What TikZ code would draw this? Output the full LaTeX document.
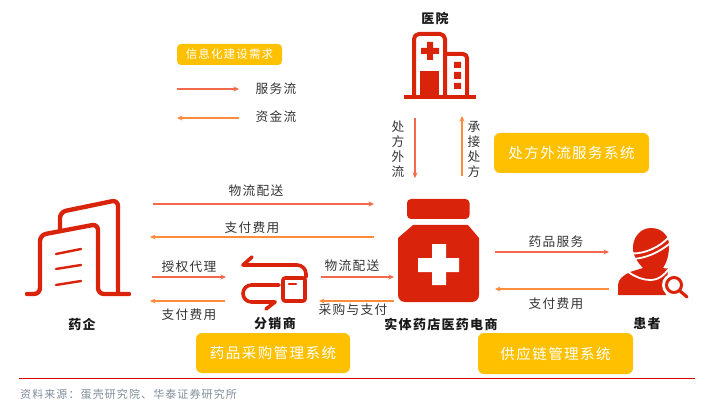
\documentclass[tikz,border=0pt]{standalone}
\usepackage{fontspec}
\setmainfont{Noto Sans CJK SC}[LetterSpace=10]
\usetikzlibrary{arrows.meta}
\definecolor{iconred}{HTML}{D9230B}
\definecolor{flowred}{HTML}{F2694B}
\definecolor{flowor}{HTML}{FF8B3D}
\definecolor{boxyel}{HTML}{FFC000}
\definecolor{srcgray}{HTML}{7F8C99}

\begin{document}
\begin{tikzpicture}[x=1pt, y=-1pt,
    serv/.style={draw=flowred, line width=1.2pt, -{Stealth[length=5.5pt, width=5pt]}},
    fund/.style={draw=flowor, line width=1.2pt, -{Stealth[length=5.5pt, width=5pt]}},
    lbl/.style={font=\fontsize{12.7}{14}\selectfont, text=black!80, inner sep=0pt},
    vlbl/.style={lbl, align=center, font=\fontsize{12.7}{15}\selectfont},
    actor/.style={font=\bfseries\fontsize{13}{14}\selectfont, text=black!90, inner sep=0pt},
    sysbox/.style={fill=boxyel, rounded corners=6pt, text=white, inner sep=0pt, font=\fontsize{14.5}{16}\selectfont},
    icon/.style={draw=iconred, line width=4.4pt, line cap=round, line join=round}]
  \useasboundingbox (0,0) rectangle (712,414);

  % flow end points
  \coordinate (a1) at (153,204);  \coordinate (a2) at (374,204);
  \coordinate (b1) at (374,237);  \coordinate (b2) at (150,237);
  \coordinate (c1) at (152,277);  \coordinate (c2) at (226,277);
  \coordinate (d1) at (225,301);  \coordinate (d2) at (150,301);
  \coordinate (e1) at (321,277);  \coordinate (e2) at (394,277);
  \coordinate (f1) at (394,301);  \coordinate (f2) at (319,301);
  \coordinate (g1) at (495,252);  \coordinate (g2) at (609,252);
  \coordinate (h1) at (609,289);  \coordinate (h2) at (495,289);
  \coordinate (i1) at (415,118);  \coordinate (i2) at (415,178);
  \coordinate (j1) at (462,176);  \coordinate (j2) at (462,116);
  \coordinate (k1) at (177,89);   \coordinate (k2) at (239,89);
  \coordinate (l1) at (239,118);  \coordinate (l2) at (177,118);

  \draw[serv] (a1) -- (a2);
  \draw[fund] (b1) -- (b2);
  \draw[serv] (c1) -- (c2);
  \draw[fund] (d1) -- (d2);
  \draw[serv] (e1) -- (e2);
  \draw[fund] (f1) -- (f2);
  \draw[serv] (g1) -- (g2);
  \draw[fund] (h1) -- (h2);
  \draw[serv] (i1) -- (i2);
  \draw[fund] (j1) -- (j2);
  \draw[serv] (k1) -- (k2);
  \draw[fund] (l1) -- (l2);

  \node[lbl] (t1) at (256,191) {物流配送};
  \node[lbl] (t2) at (252,228) {支付费用};
  \node[lbl] (t3) at (189,267) {授权代理};
  \node[lbl] (t4) at (189,315) {支付费用};
  \node[lbl] (t5) at (352,266) {物流配送};
  \node[lbl] (t6) at (353,310) {采购与支付};
  \node[lbl] (t7) at (556,242) {药品服务};
  \node[lbl] (t8) at (556,304) {支付费用};
  \node[vlbl] (t9) at (398,149) {处\\方\\外\\流};
  \node[vlbl] (t10) at (474,149) {承\\接\\处\\方};
  \node[lbl] (t11) at (276,89) {服务流};
  \node[lbl] (t12) at (276,117) {资金流};

  \node[actor] (n1) at (435,18) {医院};
  \node[actor] (n2) at (82,324) {药企};
  \node[actor] (n3) at (275,324) {分销商};
  \node[actor] (n4) at (441,324) {实体药店医药电商};
  \node[actor] (n5) at (647,324) {患者};

  \node[sysbox, minimum width=105pt, minimum height=21pt, rounded corners=4pt, font=\fontsize{11.5}{13}\selectfont] (s0) at (229.5,54.5) {信息化建设需求};
  \node[sysbox, minimum width=155pt, minimum height=40pt] (s1) at (571.5,153) {处方外流服务系统};
  \node[sysbox, minimum width=154pt, minimum height=40pt] (s2) at (273,353) {药品采购管理系统};
  \node[sysbox, minimum width=155pt, minimum height=41pt] (s3) at (555.5,353.5) {供应链管理系统};

  % hospital
  \draw[icon, line width=4pt, line cap=butt, line join=miter] (404,97) -- (476,97);
  \draw[icon, line width=4pt, line cap=butt, rounded corners=5pt] (414,97) -- (414,34) -- (445,34) -- (445,97);
  \draw[icon, line width=4pt, line cap=butt, rounded corners=4pt] (445,54) -- (467,54) -- (467,97);
  \fill[iconred] (427,42) rectangle (433,60) (421,48) rectangle (439,54);
  \fill[iconred] (420,71) rectangle (439,97);
  \fill[iconred] (454,62) rectangle (461,68) (454,72) rectangle (461,79) (454,83) rectangle (461,89);

  % pharma company
  \draw[icon, rounded corners=6pt] (27,294) -- (40,294) -- (40,235) -- (98,224) -- (98,294) -- (129,294);
  \draw[icon, rounded corners=6pt] (60,229) -- (60,212) -- (118,200) -- (118,294);
  \draw[icon, line width=2.4pt] (56,254) -- (81,249) (56,269) -- (81,265) (56,285) -- (81,281);

  % distributor
  \draw[icon, line width=3.6pt] (252,257) -- (243,265);
  \draw[icon, line width=3.6pt, rounded corners=9pt] (243,265) -- (306,265) -- (306,277);
  \draw[icon, line width=3.6pt, rounded corners=2pt] (283,278) rectangle (305,301);
  \draw[icon, line width=2.6pt] (289,284) -- (296,284);
  \draw[icon, line width=3.6pt, rounded corners=8.5pt] (279,285) -- (243,285) -- (243,302) -- (275,302);
  \draw[icon, line width=3.6pt] (275,302) -- (266,309);

  % pharmacy bottle
  \fill[iconred, rounded corners=4pt] (407,199) rectangle (469.5,219);
  \fill[iconred] (398,238) -- (413,225) -- (468,225) -- (479,238) [rounded corners=7pt] -- (479,302) -- (398,302) [sharp corners] -- cycle;
  \fill[white] (432,244) rectangle (446,285) (418,258) rectangle (459,272);

  % patient
  \fill[iconred] (633,250) .. controls (632,238) and (640,228) .. (651,228) .. controls (662,228) and (669,236) .. (669,245) .. controls (669,255) and (667,262) .. (663,268) -- (668,269) -- (648,281) -- (630,272) -- (643,268) .. controls (638,263) and (634,257) .. (633,250) -- cycle;
  \fill[iconred] (618,293) -- (618,285) .. controls (618,279) and (624,275) .. (630,272) -- (648,278) -- (668,268) -- (666,295) -- (618,295) -- cycle;
  \draw[white, line width=1.8pt] (627,271) .. controls (636,278) and (645,280) .. (650,280) .. controls (658,280) and (664,276) .. (670,267);
  \draw[white, line width=1.8pt] (631,253.5) .. controls (645,254) and (660,247) .. (669,237) (631,259) .. controls (645,259) and (660,252) .. (671,242.5);
  \fill[white] (674,285) circle (12);
  \draw[iconred, line width=3pt] (674,285) circle (7.5);
  \draw[iconred, line width=3.2pt, line cap=round] (680,291) -- (687,297);

  % footer
  \coordinate (r1) at (19,378.5);
  \coordinate (r2) at (695,378.5);
  \draw[red!85!black, line width=0.9pt] (r1) -- (r2);
  \node[anchor=west, text=srcgray, inner sep=0pt, font=\fontsize{11}{12}\selectfont] (src) at (20,394.5) {资料来源：蛋壳研究院、华泰证券研究所};
\end{tikzpicture}
\end{document}
